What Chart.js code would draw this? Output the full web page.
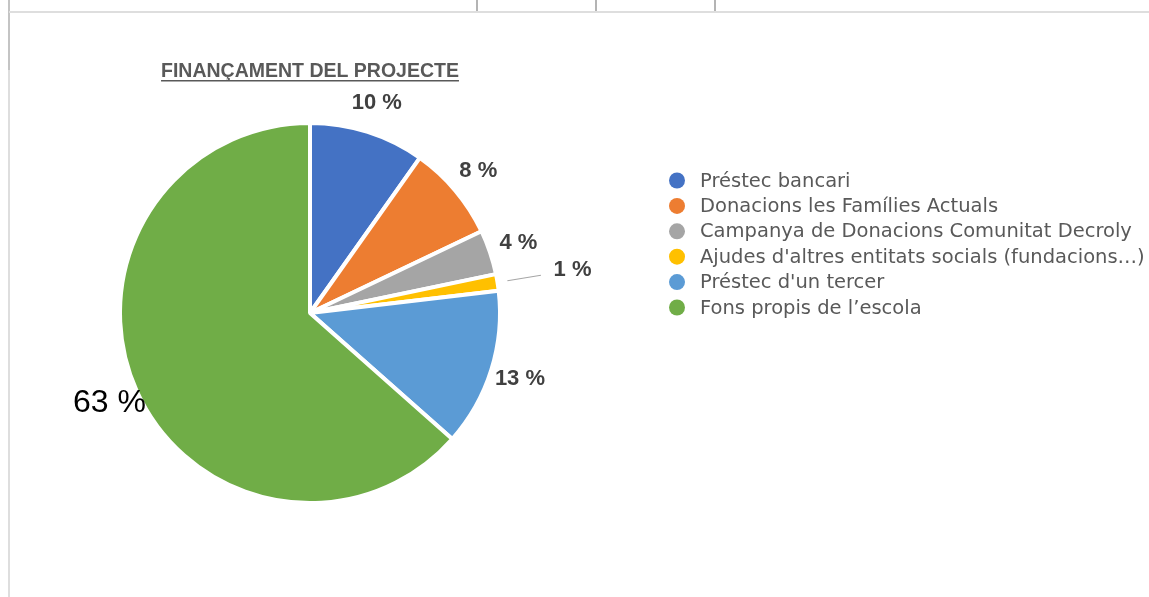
<!DOCTYPE html>
<html>
<head>
<meta charset="utf-8">
<script src="https://cdn.jsdelivr.net/npm/chart.js@4.4.1/dist/chart.umd.min.js"></script>
<style>
  html,body{margin:0;padding:0;background:#fff;overflow:hidden}
  #wrap{position:relative;width:1149px;height:597px}
  #pie{position:absolute;left:0;top:0}
  .ln{position:absolute;background:#dedede}
</style>
</head>
<body>
<div id="wrap">
  <!-- restes de la quadrícula del full -->
  <div class="ln" style="left:8px;top:0;width:2px;height:597px"></div>
  <div class="ln" style="left:8px;top:0;width:2px;height:70px;background:#c4c4c4"></div>
  <div class="ln" style="left:9px;top:11px;width:1140px;height:2px"></div>
  <div class="ln" style="left:476px;top:0;width:2px;height:11px;background:#b4b4b4"></div>
  <div class="ln" style="left:595px;top:0;width:2px;height:11px;background:#b4b4b4"></div>
  <div class="ln" style="left:714px;top:0;width:2px;height:11px;background:#b4b4b4"></div>
  <canvas id="pie" width="1149" height="597"></canvas>
</div>
<script>
/* Finançament del projecte - pastís */
const categories=['Préstec bancari','Donacions les Famílies Actuals','Campanya de Donacions Comunitat Decroly',
  "Ajudes d'altres entitats socials (fundacions…)","Préstec d'un tercer",'Fons propis de l’escola'];
const shares=[9.8,8.1,3.8,1.4,13.4,63.4];
const sliceColors=['#4472C4','#ED7D31','#A5A5A5','#FFC000','#5B9BD5','#70AD47'];
const chartTitle='FINANÇAMENT DEL PROJECTE';

const total=shares.reduce((a,b)=>a+b,0);
const pct=v=>Math.round(v/total*100)+' %';

// títol subratllat
const titlePlugin={id:'title',afterDraw(c){
  const ctx=c.ctx; ctx.save();
  ctx.font='bold 19.5px "Liberation Sans", Arial, sans-serif';
  ctx.fillStyle='#595959'; ctx.textAlign='center'; ctx.textBaseline='alphabetic';
  const cx=310,by=77;
  ctx.fillText(chartTitle,cx,by);
  const w=ctx.measureText(chartTitle).width;
  ctx.fillRect(cx-w/2,by+3,w,1.5);
  ctx.restore();
}};

// etiquetes de percentatge fora del pastís
const labelPlugin={id:'pctLabels',afterDatasetsDraw(c){
  const ctx=c.ctx, arcs=c.getDatasetMeta(0).data;
  ctx.save(); ctx.textAlign='center'; ctx.textBaseline='middle';
  arcs.forEach((a,i)=>{
    const p=a.getProps(['x','y','startAngle','endAngle','outerRadius'],true);
    const m=(p.startAngle+p.endAngle)/2, r=p.outerRadius;
    const cs=Math.cos(m), sn=Math.sin(m);
    let d=r+30;
    if(i===3){
      d=r+76;
      ctx.strokeStyle='#a6a6a6'; ctx.lineWidth=1.2;
      ctx.beginPath(); ctx.moveTo(p.x+cs*(r+10),p.y+sn*(r+10));
      ctx.lineTo(p.x+cs*(r+44),p.y+sn*(r+44)); ctx.stroke();
    }
    if(i===5){ ctx.font='32px "Liberation Sans", Arial, sans-serif'; ctx.fillStyle='#000'; }
    else { ctx.font='bold 22px "Liberation Sans", Arial, sans-serif'; ctx.fillStyle='#404040'; }
    ctx.fillText(pct(shares[i]),p.x+cs*d,p.y+sn*d);
  });
  ctx.restore();
}};

// llegenda a la dreta
const legendPlugin={id:'sideLegend',afterDraw(c){
  const ctx=c.ctx, ds=c.data.datasets[0];
  ctx.save(); ctx.textBaseline='middle'; ctx.textAlign='left';
  ctx.font='19.5px "DejaVu Sans", sans-serif';
  c.data.labels.forEach((l,i)=>{
    const y=180.5+i*25.4;
    ctx.fillStyle=ds.backgroundColor[i];
    ctx.beginPath(); ctx.arc(677,y,8,0,Math.PI*2); ctx.fill();
    ctx.fillStyle='#595959';
    ctx.fillText(l,700,y+1);
  });
  ctx.restore();
}};

new Chart(document.getElementById('pie'),{
  type:'pie',
  data:{labels:categories,datasets:[{data:shares,backgroundColor:sliceColors,
    borderColor:'#fff',borderWidth:4}]},
  options:{responsive:false,animation:false,radius:190,
    layout:{padding:{left:0,right:529,top:29,bottom:0}},
    plugins:{legend:{display:false},tooltip:{enabled:false}}},
  plugins:[titlePlugin,labelPlugin,legendPlugin]
});
</script>
</body>
</html>
